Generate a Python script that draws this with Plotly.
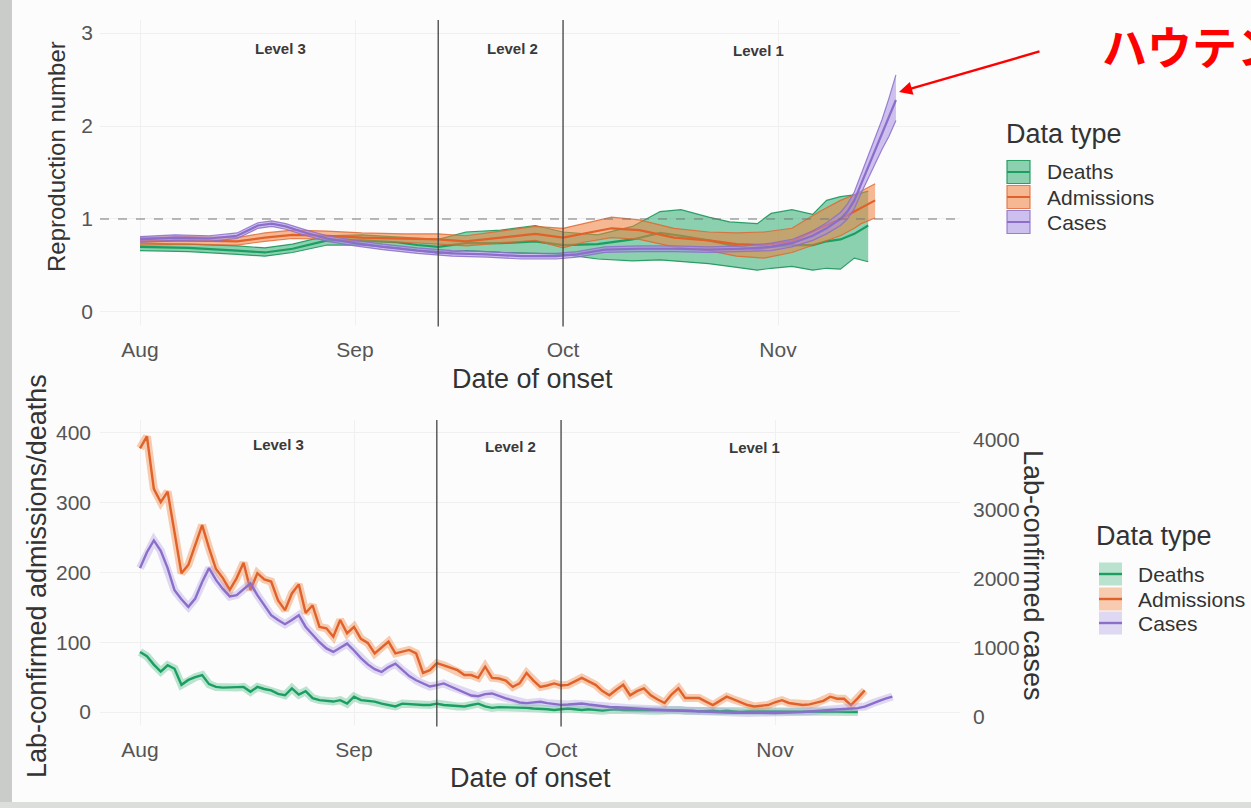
import pandas as pd
import plotly.graph_objects as go

W, H = 1251, 808
START = pd.Timestamp("2021-08-01")

# ---------------- Top panel: reproduction number (day offsets from 1 Aug 2021) ----------------
deaths_r_days = [0, 7, 14, 18, 22, 27, 32, 37, 40, 43, 47, 52, 57, 61, 66, 71, 75, 78, 82, 85,
                 89, 91, 94, 97, 99, 101, 103, 105]
deaths_r_mean = [0.70, 0.69, 0.66, 0.64, 0.68, 0.77, 0.77, 0.75, 0.72, 0.70, 0.74, 0.74, 0.76, 0.72,
                 0.73, 0.78, 0.85, 0.82, 0.77, 0.72, 0.67, 0.70, 0.72, 0.72, 0.76, 0.78, 0.84, 0.93]
deaths_r_lo = [0.66, 0.65, 0.62, 0.60, 0.64, 0.72, 0.72, 0.69, 0.66, 0.63, 0.66, 0.64, 0.63, 0.62,
               0.57, 0.55, 0.56, 0.54, 0.52, 0.49, 0.45, 0.47, 0.49, 0.45, 0.47, 0.46, 0.58, 0.54]
deaths_r_hi = [0.74, 0.73, 0.71, 0.69, 0.73, 0.82, 0.83, 0.81, 0.79, 0.78, 0.86, 0.88, 0.93, 0.86,
               0.83, 0.92, 1.08, 1.10, 1.02, 0.97, 0.95, 1.06, 1.10, 1.05, 1.20, 1.24, 1.26, 1.30]

adm_r_days = [0, 7, 14, 18, 22, 27, 32, 38, 43, 47, 52, 57, 61, 64, 68, 72, 77, 82, 86, 90,
              94, 98, 101, 103, 104, 106]
adm_r_mean = [0.76, 0.77, 0.76, 0.80, 0.83, 0.82, 0.80, 0.79, 0.78, 0.76, 0.80, 0.84, 0.80, 0.84,
              0.90, 0.88, 0.80, 0.77, 0.73, 0.72, 0.76, 0.90, 1.00, 1.08, 1.12, 1.20]
adm_r_lo = [0.72, 0.73, 0.72, 0.76, 0.79, 0.78, 0.76, 0.75, 0.73, 0.71, 0.74, 0.77, 0.69, 0.75,
            0.80, 0.78, 0.70, 0.66, 0.60, 0.58, 0.64, 0.74, 0.82, 0.90, 0.95, 1.01]
adm_r_hi = [0.80, 0.81, 0.80, 0.85, 0.88, 0.87, 0.85, 0.84, 0.84, 0.82, 0.87, 0.92, 0.90, 0.95,
            1.02, 0.99, 0.90, 0.86, 0.85, 0.86, 0.90, 1.08, 1.20, 1.26, 1.30, 1.38]

case_r_days = [0, 5, 10, 14, 17, 19, 21, 24, 27, 31, 35, 40, 45, 50, 55, 60, 63, 67, 72, 77,
               82, 87, 91, 94, 97, 99, 101, 102, 103, 104, 105, 106, 107, 108, 109]
case_r_mean = [0.78, 0.80, 0.79, 0.82, 0.93, 0.95, 0.92, 0.85, 0.79, 0.74, 0.70, 0.66, 0.63, 0.62,
               0.60, 0.60, 0.62, 0.67, 0.68, 0.68, 0.67, 0.68, 0.70, 0.74, 0.82, 0.90, 1.00, 1.08,
               1.20, 1.38, 1.55, 1.73, 1.90, 2.08, 2.28]
case_r_lo = [0.75, 0.77, 0.76, 0.79, 0.90, 0.92, 0.89, 0.82, 0.76, 0.71, 0.67, 0.63, 0.60, 0.59,
             0.57, 0.57, 0.59, 0.64, 0.65, 0.65, 0.64, 0.65, 0.66, 0.70, 0.77, 0.84, 0.93, 1.00,
             1.11, 1.28, 1.44, 1.60, 1.75, 1.89, 2.06]
case_r_hi = [0.81, 0.83, 0.82, 0.85, 0.96, 0.98, 0.95, 0.88, 0.82, 0.77, 0.73, 0.69, 0.66, 0.65,
             0.63, 0.63, 0.65, 0.70, 0.71, 0.71, 0.70, 0.71, 0.74, 0.78, 0.87, 0.96, 1.07, 1.16,
             1.29, 1.48, 1.67, 1.87, 2.07, 2.30, 2.55]

# ---------------- Bottom panel: daily counts (from 1 Aug 2021) ----------------
admissions = [378, 395, 320, 301, 316, 255, 199, 211, 240, 268,
              235, 205, 192, 175, 192, 214, 175, 199, 190, 187,
              160, 146, 170, 183, 142, 153, 122, 120, 108, 132,
              113, 122, 105, 99, 84, 92, 101, 84, 86, 89,
              84, 56, 60, 70, 67, 63, 60, 53, 53, 49,
              65, 49, 48, 45, 36, 41, 56, 45, 36, 38,
              41, 38, 39, 44, 49, 44, 39, 30, 24, 32,
              39, 24, 30, 34, 24, 18, 13, 25, 34, 20,
              20, 20, 15, 10, 16, 22, 18, 14, 10, 8,
              9, 10, 14, 17, 13, 12, 10, 11, 13, 16,
              22, 19, 19, 10, 20, 31]
deaths = [86, 80, 68, 58, 67, 62, 39, 46, 50, 53,
          40, 36, 35, 35, 35, 36, 29, 36, 33, 31,
          26, 24, 34, 25, 30, 20, 17, 16, 15, 17,
          12, 22, 17, 16, 15, 12, 10, 8, 12, 11,
          10, 10, 10, 12, 10, 9, 8, 8, 10, 12,
          8, 6, 7, 7, 6, 7, 6, 5, 5, 4,
          3, 4, 5, 4, 3, 4, 3, 2, 3, 4,
          3, 3, 2, 3, 2, 2, 3, 2, 3, 2,
          2, 1, 2, 2, 1, 2, 1, 0, 1, 1,
          0, 1, 0, 1, 1, 0, 1, 1, 0, 1,
          0, 1, 0, 0, 0]
cases = [2150, 2380, 2550, 2400, 2150, 1830, 1700, 1590, 1710, 1950,
         2150, 1980, 1850, 1740, 1760, 1850, 1930, 1760, 1610, 1470,
         1400, 1340, 1400, 1470, 1300, 1190, 1080, 990, 940, 1000,
         1060, 960, 850, 760, 690, 650, 720, 770, 680, 590,
         530, 480, 440, 460, 485, 440, 400, 350, 310, 300,
         330, 340, 300, 270, 240, 210, 200, 210, 220, 200,
         185, 175, 180, 190, 195, 180, 165, 150, 145, 140,
         132, 126, 120, 115, 110, 105, 100, 98, 95, 90,
         85, 80, 77, 72, 68, 65, 62, 60, 58, 58,
         57, 58, 58, 60, 62, 66, 72, 80, 90, 100,
         105, 110, 115, 120, 128, 150, 195, 230, 265, 295]

series_names = ["Deaths", "Admissions", "Cases"]
month_ticks = ["2021-08-01", "2021-09-01", "2021-10-01", "2021-11-01"]
month_labels = ["Aug", "Sep", "Oct", "Nov"]
level_changes = ["2021-09-13", "2021-10-01"]
level_labels = ["Level 3", "Level 2", "Level 1"]

LINE = {"Deaths": "#1b9e62", "Admissions": "#e0612a", "Cases": "#8b6dca"}
FILL = {"Deaths": "rgba(45,172,112,0.55)", "Admissions": "rgba(240,128,60,0.55)",
        "Cases": "rgba(165,140,225,0.55)"}
EDGE = {"Deaths": "rgba(27,150,90,0.9)", "Admissions": "rgba(224,100,45,0.8)",
        "Cases": "rgba(139,109,202,0.85)"}
SOFT = {"Deaths": "rgba(60,180,120,0.35)", "Admissions": "rgba(240,130,60,0.4)",
        "Cases": "rgba(170,150,225,0.35)"}


def to_dates(days):
    return [START + pd.Timedelta(days=d) for d in days]


def px(x):
    return x / W


def py(y):
    return 1 - y / H


fig = go.Figure()

# ---- top ribbons ----
top = [("Deaths", deaths_r_days, deaths_r_lo, deaths_r_hi, deaths_r_mean),
       ("Admissions", adm_r_days, adm_r_lo, adm_r_hi, adm_r_mean),
       ("Cases", case_r_days, case_r_lo, case_r_hi, case_r_mean)]
for name, d, lo, hi, mean in top:
    xs = to_dates(d)
    fig.add_trace(go.Scatter(x=xs, y=lo, mode="lines", line=dict(color=EDGE[name], width=1.2),
                             showlegend=False, hoverinfo="skip", xaxis="x", yaxis="y"))
    fig.add_trace(go.Scatter(x=xs, y=hi, mode="lines", line=dict(color=EDGE[name], width=1.2),
                             fill="tonexty", fillcolor=FILL[name], showlegend=False,
                             hoverinfo="skip", xaxis="x", yaxis="y"))
    fig.add_trace(go.Scatter(x=xs, y=mean, mode="lines", name=name,
                             line=dict(color=LINE[name], width=2.2), showlegend=False,
                             xaxis="x", yaxis="y"))

# ---- bottom lines ----
bottom = [("Deaths", deaths, "y2"), ("Admissions", admissions, "y2"), ("Cases", cases, "y3")]
for name, vals, ax in bottom:
    xs = to_dates(range(len(vals)))
    fig.add_trace(go.Scatter(x=xs, y=vals, mode="lines", line=dict(color=SOFT[name], width=8),
                             showlegend=False, hoverinfo="skip", xaxis="x2", yaxis=ax))
    fig.add_trace(go.Scatter(x=xs, y=vals, mode="lines", name=name,
                             line=dict(color=LINE[name], width=2.4), showlegend=False,
                             xaxis="x2", yaxis=ax))

TICKF = dict(family="Liberation Sans, Arial, sans-serif", size=21, color="#555555")
TITLEF = dict(family="Liberation Sans, Arial, sans-serif", color="#333333")
GRID = "#f0f0f0"

xdom = [px(100), px(960)]
top_range = [START + pd.Timedelta(days=-5.77), START + pd.Timedelta(days=118.24)]
bot_range = [START + pd.Timedelta(days=-5.80), START + pd.Timedelta(days=118.8)]

fig.update_layout(
    width=W, height=H,
    margin=dict(l=0, r=0, t=0, b=0),
    paper_bgcolor="#fcfcfc", plot_bgcolor="rgba(0,0,0,0)",
    font=dict(family="Liberation Sans, Arial, sans-serif"),
    xaxis=dict(domain=xdom, anchor="y", range=top_range, tickvals=month_ticks,
               ticktext=month_labels, showgrid=True, gridcolor=GRID, zeroline=False,
               showline=False, ticks="", tickfont=TICKF, ticklabelstandoff=10,
               automargin=False),
    yaxis=dict(domain=[py(325), py(20)], anchor="x", range=[-0.14, 3.14],
               tickvals=[0, 1, 2, 3], showgrid=True, gridcolor=GRID, zeroline=False,
               showline=False, ticks="", tickfont=TICKF, ticklabelstandoff=6,
               automargin=False),
    xaxis2=dict(domain=xdom, anchor="y2", range=bot_range, tickvals=month_ticks,
                ticktext=month_labels, showgrid=True, gridcolor=GRID, zeroline=False,
                showline=False, ticks="", tickfont=TICKF, ticklabelstandoff=10,
                automargin=False),
    yaxis2=dict(domain=[py(725), py(420)], anchor="x2", range=[-18.6, 418.6],
                tickvals=[0, 100, 200, 300, 400], showgrid=True, gridcolor=GRID,
                zeroline=False, showline=False, ticks="", tickfont=TICKF,
                ticklabelstandoff=8, automargin=False),
    yaxis3=dict(domain=[py(725), py(420)], anchor="x2", overlaying="y2", side="right",
                range=[-115.5, 4288.8], tickvals=[0, 1000, 2000, 3000, 4000],
                showgrid=False, zeroline=False, showline=False, ticks="", tickfont=TICKF,
                ticklabelstandoff=12, automargin=False),
)

shapes = []
# level change lines
for ya, xa in (("y", "x"), ("y2", "x2")):
    for dt in level_changes:
        shapes.append(dict(type="line", xref=xa, yref=ya + " domain", x0=dt, x1=dt,
                           y0=-0.005, y1=1.0, line=dict(color="#444444", width=1.3)))
# R = 1 reference
shapes.append(dict(type="line", xref="x domain", yref="y", x0=0, x1=1, y0=1, y1=1,
                   line=dict(color="#777777", width=1.2, dash="dash")))
# scan edge strip
shapes.append(dict(type="rect", xref="paper", yref="paper", x0=0, x1=px(12), y0=0, y1=1,
                   line=dict(width=0), fillcolor="#c9ccc8", layer="below"))
shapes.append(dict(type="rect", xref="paper", yref="paper", x0=0, x1=1, y0=0, y1=1 - 802 / H,
                   line=dict(width=0), fillcolor="#dcdedb", layer="below"))


def note(text, x, y, size, color="#333333", angle=0, xanchor="center", family=None):
    f = dict(size=size, color=color)
    if family:
        f["family"] = family
    return dict(text=text, xref="paper", yref="paper", x=px(x), y=py(y), xanchor=xanchor,
                yanchor="middle", textangle=angle, showarrow=False, font=f)


annotations = []
# legend keys (top: bordered ribbon boxes; bottom: soft boxes with a line)
top_rows = [172, 197, 222]
bot_rows = [574, 599, 623]
for name, yc in zip(series_names, top_rows):
    shapes.append(dict(type="rect", xref="paper", yref="paper", x0=px(1007), x1=px(1030),
                       y0=py(yc + 11.5), y1=py(yc - 11.5), fillcolor=FILL[name],
                       line=dict(color=EDGE[name], width=1.2)))
    shapes.append(dict(type="line", xref="paper", yref="paper", x0=px(1007), x1=px(1030),
                       y0=py(yc), y1=py(yc), line=dict(color=LINE[name], width=2)))
    annotations.append(note(name, 1045, yc, 21, xanchor="left"))
for name, yc in zip(series_names, bot_rows):
    shapes.append(dict(type="rect", xref="paper", yref="paper", x0=px(1099), x1=px(1122),
                       y0=py(yc + 11.5), y1=py(yc - 11.5), fillcolor=SOFT[name],
                       line=dict(width=0)))
    shapes.append(dict(type="line", xref="paper", yref="paper", x0=px(1099), x1=px(1122),
                       y0=py(yc), y1=py(yc), line=dict(color=LINE[name], width=2.4)))
    annotations.append(note(name, 1136, yc, 21, xanchor="left"))

annotations += [
    note("Data type", 1004, 134, 27, xanchor="left"),
    note("Data type", 1094, 536, 27, xanchor="left"),
    note("Reproduction number", 56, 157, 24, angle=-90),
    note("Date of onset", 532, 379, 27),
    note("Date of onset", 530, 778, 27),
    note("Lab-confirmed admissions/deaths", 37, 576, 27, angle=-90),
    note("Lab-confirmed cases", 1033, 575, 27, angle=90),
]
# level labels
level_mid_top = [(280, 48), (512, 49), (758, 51)]
level_mid_bot = [(278, 444), (510, 446), (755, 447)]
for lab, (xc, yc) in zip(level_labels, level_mid_top):
    annotations.append(note("<b>%s</b>" % lab, xc, yc, 15, color="#3a3a3a"))
for lab, (xc, yc) in zip(level_labels, level_mid_bot):
    annotations.append(note("<b>%s</b>" % lab, xc, yc, 15, color="#3a3a3a"))

# red callout
annotations.append(note("<b>ハウテン</b>", 1100, 45, 45, color="#ff0000", xanchor="left",
                        family="Noto Sans CJK JP, sans-serif"))
annotations.append(dict(text="", xref="paper", yref="paper", x=px(899), y=py(92),
                        ax=142, ay=-41, axref="pixel", ayref="pixel", showarrow=True,
                        arrowhead=2, arrowsize=1.1, arrowwidth=2.4, arrowcolor="#ff0000"))

fig.update_layout(shapes=shapes, annotations=annotations)
fig.write_html("out.html")
